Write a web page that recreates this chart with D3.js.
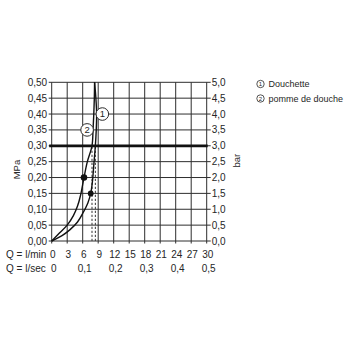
<!DOCTYPE html>
<html>
<head>
    <meta charset="utf-8">
    <title>Diagramme débit / pression</title>
    <script src="https://d3js.org/d3.v7.min.js"></script>
    <style>
        body {
            margin: 0;
            background-color: #ffffff;
        }

        text {
            font-family: "Liberation Sans", Arial, sans-serif;
            fill: #262626;
        }
    </style>
</head>
<body>
    <svg id="chart"></svg>

    <script type="text/javascript">
        // flow in l/min, pressure in MPa
        const flowTicks = [0, 3, 6, 9, 12, 15, 18, 21, 24, 27, 30]
        const flowSecTicks = [0, 0.1, 0.2, 0.3, 0.4, 0.5]
        const pressureTicks = [0, 0.05, 0.10, 0.15, 0.20, 0.25, 0.30, 0.35, 0.40, 0.45, 0.50]
        const barTicks = [0, 0.5, 1.0, 1.5, 2.0, 2.5, 3.0, 3.5, 4.0, 4.5, 5.0]

        const seriesNames = ['Douchette', 'pomme de douche']

        const douchette = [
            [0, 0], [2, 0.017], [3.5, 0.035], [5, 0.06], [6.1, 0.09], [7, 0.12],
            [7.55, 0.15], [7.9, 0.19], [8.15, 0.24], [8.45, 0.30], [8.62, 0.35],
            [8.7, 0.40], [8.55, 0.45], [8.3, 0.50]
        ]
        const pommeDeDouche = [
            [0, 0], [1.5, 0.025], [3, 0.05], [4.2, 0.08], [5, 0.11], [5.6, 0.145],
            [6.25, 0.20], [6.9, 0.25], [7.8, 0.30], [8.0, 0.35], [8.15, 0.40],
            [8.25, 0.45], [8.3, 0.50]
        ]

        // operating points marked on the curves
        const markerPoints = [[7.55, 0.15], [6.25, 0.20]]
        // flow read at 3 bar (dashed)
        const flowAt3bar = [7.8, 8.45]
        const refPressure = 0.30
        // curve callouts (number, flow, pressure)
        const callouts = [['1', 9.8, 0.40], ['2', 6.85, 0.35]]

        const fmt = (v, d) => v.toFixed(d).replace('.', ',')

        let svg = d3.select('#chart').attr('width', 350).attr('height', 350)

        let x = d3.scaleLinear().domain([0, 30]).range([51.7, 206.7])
        let xSec = d3.scaleLinear().domain([0, 0.5]).range([51.7, 206.7])
        let y = d3.scaleLinear().domain([0, 0.5]).range([241, 82.3])
        let yBar = d3.scaleLinear().domain([0, 5]).range([241, 82.3])

        // grid
        let grid = svg.append('g').attr('stroke', '#2e2e2e').attr('stroke-width', 1)
        grid.selectAll('line.v').data(flowTicks).enter().append('line')
            .attr('x1', d => x(d)).attr('x2', d => x(d))
            .attr('y1', y(0.5)).attr('y2', y(0) + 2.5)
        grid.selectAll('line.h').data(pressureTicks).enter().append('line')
            .attr('x1', x(0) - 3).attr('x2', x(30) + 4)
            .attr('y1', d => y(d)).attr('y2', d => y(d))

        // left axis labels (MPa)
        svg.append('g').selectAll('text').data(pressureTicks).enter().append('text')
            .attr('x', x(0) - 4.5)
            .attr('y', d => y(d) + 3.5)
            .attr('text-anchor', 'end')
            .style('font-size', '10px')
            .text(d => fmt(d, 2))

        // right axis labels (bar)
        svg.append('g').selectAll('text').data(barTicks).enter().append('text')
            .attr('x', x(30) + 5)
            .attr('y', d => yBar(d) + 3.5)
            .style('font-size', '10px')
            .text(d => fmt(d, 1))

        svg.append('text')
            .attr('transform', `translate(19.5,${y(0.225)}) rotate(-90)`)
            .attr('text-anchor', 'middle')
            .style('font-size', '9.5px')
            .text('MPa')
        svg.append('text')
            .attr('transform', `translate(239.5,${y(0.25) - 1}) rotate(-90)`)
            .attr('text-anchor', 'middle')
            .style('font-size', '9.5px')
            .text('bar')

        // bottom labels
        svg.append('text').attr('x', 6).attr('y', 258).style('font-size', '10px').text('Q = l/min')
        svg.append('g').selectAll('text').data(flowTicks).enter().append('text')
            .attr('x', d => x(d) + 1)
            .attr('y', 258)
            .attr('text-anchor', 'middle')
            .style('font-size', '10px')
            .text(d => d)
        svg.append('text').attr('x', 6).attr('y', 271.5).style('font-size', '10px').text('Q = l/sec')
        svg.append('g').selectAll('text').data(flowSecTicks).enter().append('text')
            .attr('x', d => xSec(d) + 2)
            .attr('y', 271.5)
            .attr('text-anchor', 'middle')
            .style('font-size', '10px')
            .text(d => d === 0 ? '0' : fmt(d, 1))

        // 3 bar reference line
        svg.append('line')
            .attr('x1', x(0) - 2.5).attr('x2', x(30) + 1)
            .attr('y1', y(refPressure)).attr('y2', y(refPressure))
            .attr('stroke', '#111').attr('stroke-width', 2.8)

        // dashed drop lines
        svg.append('g').selectAll('line').data(flowAt3bar).enter().append('line')
            .attr('x1', d => x(d)).attr('x2', d => x(d))
            .attr('y1', y(refPressure) + 1).attr('y2', y(0))
            .attr('stroke', '#333').attr('stroke-width', 1)
            .attr('stroke-dasharray', '2.2 1.8')

        // curves
        let line = d3.line()
            .x(d => x(d[0]))
            .y(d => y(d[1]))
            .curve(d3.curveCatmullRom.alpha(0.5))

        svg.append('g').selectAll('path').data([douchette, pommeDeDouche]).enter().append('path')
            .attr('d', d => line(d))
            .attr('fill', 'none')
            .attr('stroke', '#111')
            .attr('stroke-width', 1.4)

        svg.append('g').selectAll('circle').data(markerPoints).enter().append('circle')
            .attr('cx', d => x(d[0]))
            .attr('cy', d => y(d[1]))
            .attr('r', (d, i) => i == 0 ? 2.9 : 3.3)
            .attr('fill', '#111')

        // callouts
        let co = svg.append('g').selectAll('g').data(callouts).enter().append('g')
            .attr('transform', d => `translate(${x(d[1])},${y(d[2])})`)
        co.append('circle')
            .attr('r', 6.3)
            .attr('fill', '#fff')
            .attr('stroke', '#2a2a2a')
            .attr('stroke-width', 1)
        co.append('text')
            .attr('y', 3.3)
            .attr('text-anchor', 'middle')
            .style('font-size', '9.5px')
            .text(d => d[0])

        // legend
        let legend = svg.append('g').selectAll('g').data(seriesNames).enter().append('g')
            .attr('transform', (d, i) => `translate(260.5,${84 + i * 14.5})`)
        legend.append('circle')
            .attr('r', 3.7)
            .attr('fill', 'none')
            .attr('stroke', '#2a2a2a')
            .attr('stroke-width', 0.8)
        legend.append('text')
            .attr('y', 2.1)
            .attr('text-anchor', 'middle')
            .style('font-size', '6px')
            .text((d, i) => i + 1)
        legend.append('text')
            .attr('x', 8)
            .attr('y', 3)
            .style('font-size', '9px')
            .text(d => d)
    </script>
</body>
</html>
